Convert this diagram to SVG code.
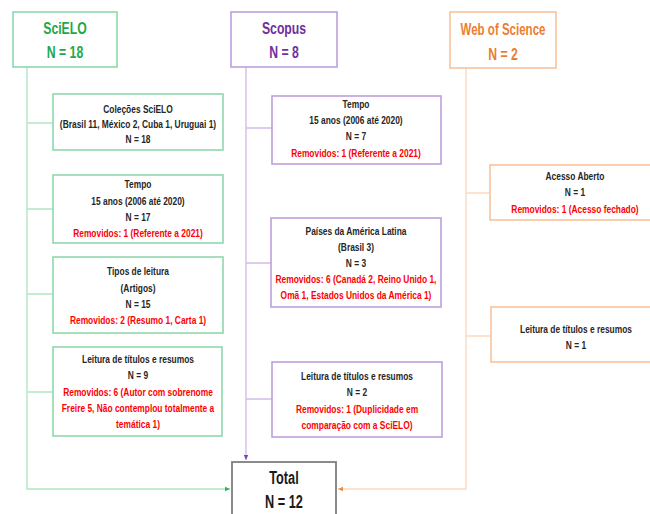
<svg xmlns="http://www.w3.org/2000/svg" width="650" height="514" viewBox="0 0 650 514">
<style>
.t{font-family:"Liberation Sans",Arial,sans-serif;font-weight:bold;font-size:10.5px;text-anchor:middle;fill:#262626}
.r{fill:#ff0000}
.h{font-family:"Liberation Sans",Arial,sans-serif;font-weight:bold;font-size:17px;text-anchor:middle}
.bg{fill:#fff;stroke:#8fd8ac;stroke-width:1.6}
.bp{fill:#fff;stroke:#bf9fdc;stroke-width:1.6}
.bo{fill:#fff;stroke:#f8c39c;stroke-width:1.6}
.lg{fill:none;stroke:#b3e5c6;stroke-width:1.4}
.lp{fill:none;stroke:#d2bde8;stroke-width:1.4}
.lo{fill:none;stroke:#fbd9c0;stroke-width:1.4}
</style>
<defs>
<marker id="ag" markerWidth="6" markerHeight="6" refX="5" refY="3" orient="auto" markerUnits="userSpaceOnUse"><path d="M0,0.8 L5,3 L0,5.2 z" fill="#2bb45a"/></marker>
<marker id="ap" markerWidth="6" markerHeight="6" refX="5" refY="3" orient="auto" markerUnits="userSpaceOnUse"><path d="M0,0.8 L5,3 L0,5.2 z" fill="#7a3fb0"/></marker>
<marker id="ao" markerWidth="6" markerHeight="6" refX="5" refY="3" orient="auto" markerUnits="userSpaceOnUse"><path d="M0,0.8 L5,3 L0,5.2 z" fill="#f08a3c"/></marker>
</defs>
<rect width="650" height="514" fill="#fff"/>
<g id="connectors">
<path class="lg" d="M27,67 V489 H230" marker-end="url(#ag)"/>
<path class="lg" d="M27,123 H53 M27,209 H53 M27,294 H53 M27,392 H53"/>
<path class="lp" d="M246,67 V460" marker-end="url(#ap)"/>
<path class="lp" d="M246,128 H272 M246,263 H272 M246,399 H272"/>
<path class="lo" d="M466,68 V489 H338" marker-end="url(#ao)"/>
<path class="lo" d="M466,193 H490 M466,336 H490"/>
</g>
<g id="scielo">
<rect class="bg" x="13" y="12" width="104" height="55"/>
<g transform="translate(65 0) scale(0.72 1)" fill="#1fa84a">
<text class="h" x="0" y="34">SciELO</text>
<text class="h" x="0" y="58">N = 18</text>
</g>
</g>
<g id="scopus">
<rect class="bp" x="231" y="12" width="106" height="55"/>
<g transform="translate(284 0) scale(0.72 1)" fill="#7030a0">
<text class="h" x="0" y="34">Scopus</text>
<text class="h" x="0" y="58">N = 8</text>
</g>
</g>
<g id="wos">
<rect class="bo" x="450" y="12" width="106" height="56"/>
<g transform="translate(503 0) scale(0.72 1)" fill="#ed7d31">
<text class="h" x="0" y="35" style="font-size:16px">Web of Science</text>
<text class="h" x="0" y="60">N = 2</text>
</g>
</g>
<g id="scielo-colecoes">
<rect class="bg" x="53" y="94" width="170" height="56"/>
<g transform="translate(138 0) scale(0.8 1)">
<text class="t" x="0" y="113">Coleções SciELO</text>
<text class="t" x="0" y="128">(Brasil 11, México 2, Cuba 1, Uruguai 1)</text>
<text class="t" x="0" y="143">N = 18</text>
</g>
</g>
<g id="scielo-tempo">
<rect class="bg" x="53" y="175" width="170" height="68"/>
<g transform="translate(138 0) scale(0.8 1)">
<text class="t" x="0" y="188">Tempo</text>
<text class="t" x="0" y="205">15 anos (2006 até 2020)</text>
<text class="t" x="0" y="221">N = 17</text>
<text class="t r" x="0" y="237">Removidos: 1 (Referente a 2021)</text>
</g>
</g>
<g id="scielo-tipos">
<rect class="bg" x="53" y="257" width="170" height="76"/>
<g transform="translate(138 0) scale(0.8 1)">
<text class="t" x="0" y="275">Tipos de leitura</text>
<text class="t" x="0" y="292">(Artigos)</text>
<text class="t" x="0" y="308">N = 15</text>
<text class="t r" x="0" y="324">Removidos: 2 (Resumo 1, Carta 1)</text>
</g>
</g>
<g id="scielo-leitura">
<rect class="bg" x="53" y="347" width="169" height="89"/>
<g transform="translate(138 0) scale(0.8 1)">
<text class="t" x="0" y="363">Leitura de títulos e resumos</text>
<text class="t" x="0" y="379">N = 9</text>
<text class="t r" x="0" y="396">Removidos: 6 (Autor com sobrenome</text>
<text class="t r" x="0" y="412">Freire 5, Não contemplou totalmente a</text>
<text class="t r" x="0" y="428">temática 1)</text>
</g>
</g>
<g id="scopus-tempo">
<rect class="bp" x="272" y="96" width="169" height="68"/>
<g transform="translate(356 0) scale(0.8 1)">
<text class="t" x="0" y="108">Tempo</text>
<text class="t" x="0" y="124">15 anos (2006 até 2020)</text>
<text class="t" x="0" y="140">N = 7</text>
<text class="t r" x="0" y="157">Removidos: 1 (Referente a 2021)</text>
</g>
</g>
<g id="scopus-paises">
<rect class="bp" x="271" y="218" width="170" height="89"/>
<g transform="translate(356 0) scale(0.8 1)">
<text class="t" x="0" y="235">Países da América Latina</text>
<text class="t" x="0" y="251">(Brasil 3)</text>
<text class="t" x="0" y="267">N = 3</text>
<text class="t r" x="0" y="283">Removidos: 6 (Canadá 2, Reino Unido 1,</text>
<text class="t r" x="0" y="299">Omã 1, Estados Unidos da América 1)</text>
</g>
</g>
<g id="scopus-leitura">
<rect class="bp" x="272" y="362" width="170" height="75"/>
<g transform="translate(357 0) scale(0.8 1)">
<text class="t" x="0" y="380">Leitura de títulos e resumos</text>
<text class="t" x="0" y="396">N = 2</text>
<text class="t r" x="0" y="413">Removidos: 1 (Duplicidade em</text>
<text class="t r" x="0" y="429">comparação com a SciELO)</text>
</g>
</g>
<g id="wos-acesso">
<rect class="bo" x="490" y="165" width="170" height="55"/>
<g transform="translate(575 0) scale(0.8 1)">
<text class="t" x="0" y="180">Acesso Aberto</text>
<text class="t" x="0" y="196">N = 1</text>
<text class="t r" x="0" y="213">Removidos: 1 (Acesso fechado)</text>
</g>
</g>
<g id="wos-leitura">
<rect class="bo" x="491" y="307" width="170" height="55"/>
<g transform="translate(576 0) scale(0.8 1)">
<text class="t" x="0" y="333">Leitura de títulos e resumos</text>
<text class="t" x="0" y="349">N = 1</text>
</g>
</g>
<g id="total">
<rect x="232" y="462" width="104" height="60" fill="#fff" stroke="#7f7f7f" stroke-width="1.8"/>
<g transform="translate(284 0) scale(0.67 1)" fill="#1a1a1a">
<text class="h" x="0" y="484" style="font-size:19px">Total</text>
<text class="h" x="0" y="508" style="font-size:19px">N = 12</text>
</g>
</g>
</svg>
